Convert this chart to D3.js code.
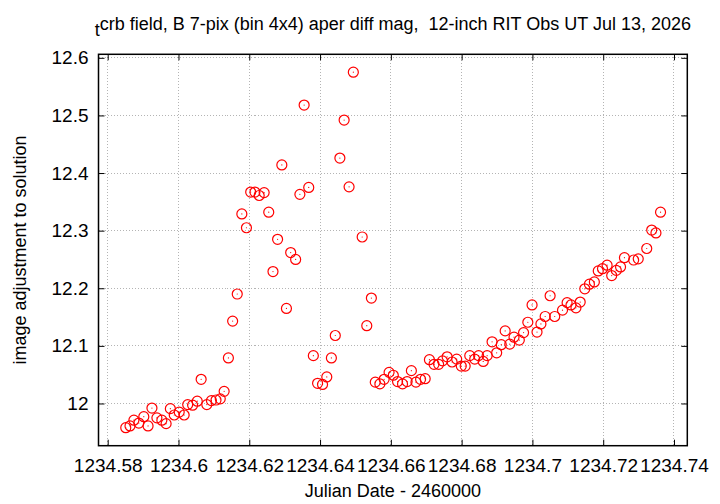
<!DOCTYPE html>
<html><head><meta charset="utf-8">
<script src="https://cdn.jsdelivr.net/npm/d3@7"></script>
<style>body{margin:0;background:#fff}svg{display:block}text{font-family:"Liberation Sans",Arial,sans-serif;white-space:pre}</style>
</head><body><svg id="c" width="720" height="504"></svg>
<script>
const jd = [1234.5851,1234.5863,1234.5874,1234.5888,1234.5902,1234.5914,1234.5925,1234.5939,1234.5953,1234.5965,
1234.5977,1234.5988,1234.6002,1234.6016,1234.6026,1234.6040,1234.6053,1234.6064,1234.6080,1234.6093,
1234.6106,1234.6118,1234.6129,1234.6141,1234.6153,1234.6166,1234.6179,1234.6192,1234.6204,1234.6216,
1234.6228,1234.6242,1234.6255,1234.6267,1234.6280,1234.6292,1234.6305,1234.6317,1234.6331,1234.6343,
1234.6355,1234.6368,1234.6381,1234.6393,1234.6407,1234.6419,1234.6432,1234.6443,1234.6456,1234.6468,
1234.6482,1234.6494,1234.6519,1234.6532,1234.6545,1234.6556,1234.6569,1234.6581,1234.6595,1234.6607,
1234.6619,1234.6633,1234.6646,1234.6658,1234.6671,1234.6684,1234.6697,1234.6709,1234.6722,1234.6735,
1234.6746,1234.6759,1234.6773,1234.6786,1234.6799,1234.6810,1234.6823,1234.6837,1234.6848,1234.6861,
1234.6872,1234.6886,1234.6899,1234.6912,1234.6923,1234.6936,1234.6948,1234.6963,1234.6975,1234.6987,
1234.6999,1234.7013,1234.7024,1234.7036,1234.7050,1234.7063,1234.7085,1234.7098,1234.7109,1234.7123,
1234.7135,1234.7148,1234.7161,1234.7175,1234.7186,1234.7198,1234.7211,1234.7224,1234.7237,1234.7249,
1234.7260,1234.7286,1234.7299,1234.7323,1234.7337,1234.7349,1234.7362];
const mag = [11.958,11.961,11.971,11.966,11.977,11.961,11.992,11.975,11.971,11.965,
11.991,11.980,11.985,11.980,11.998,11.997,12.004,12.042,11.998,12.005,
12.006,12.008,12.021,12.079,12.143,12.190,12.329,12.305,12.367,12.367,
12.361,12.366,12.332,12.229,12.285,12.414,12.165,12.262,12.250,12.363,
12.518,12.375,12.083,12.035,12.033,12.046,12.079,12.118,12.426,12.492,
12.376,12.575,12.289,12.135,12.183,12.037,12.034,12.042,12.054,12.049,
12.038,12.034,12.038,12.057,12.037,12.042,12.043,12.076,12.068,12.068,
12.074,12.081,12.072,12.077,12.065,12.065,12.083,12.077,12.083,12.073,
12.083,12.107,12.088,12.102,12.126,12.103,12.115,12.110,12.123,12.141,
12.171,12.124,12.138,12.151,12.187,12.151,12.162,12.175,12.171,12.166,
12.176,12.199,12.207,12.211,12.230,12.234,12.240,12.222,12.231,12.237,
12.253,12.249,12.251,12.269,12.301,12.296,12.332];
const xTicks = [1234.58,1234.6,1234.62,1234.64,1234.66,1234.68,1234.7,1234.72,1234.74];
const yTicks = [12,12.1,12.2,12.3,12.4,12.5,12.6];
const titleSub = "t";
const titleMain = "crb field, B 7-pix (bin 4x4) aper diff mag,  12-inch RIT Obs UT Jul 13, 2026";
const xLabel = "Julian Date - 2460000";
const yLabel = "image adjustment to solution";

const L=98.5, R=687.3, T=54.3, B=445.7;
const x = d3.scaleLinear().domain([1234.5774,1234.74376]).range([L,R]);
const y = d3.scaleLinear().domain([11.9267,12.6061]).range([B,T]);
const svg = d3.select("#c");
const fmt = d => String(+d.toFixed(2));

// grid
const g = svg.append("g");
g.selectAll(".gx").data(xTicks).join("line").attr("x1",d=>x(d)).attr("x2",d=>x(d)).attr("y1",T).attr("y2",B)
 .attr("stroke","#b4b4b4").attr("stroke-width",1).attr("stroke-dasharray","1,2").attr("shape-rendering","crispEdges");
g.selectAll(".gy").data(yTicks).join("line").attr("y1",d=>y(d)).attr("y2",d=>y(d)).attr("x1",L).attr("x2",R)
 .attr("stroke","#b4b4b4").attr("stroke-width",1).attr("stroke-dasharray","1,2").attr("shape-rendering","crispEdges");

// axes
const tk=6;
const ax = svg.append("g");
ax.append("g").attr("transform",`translate(0,${B})`).call(d3.axisBottom(x).tickValues(xTicks).tickFormat(fmt).tickSizeInner(-tk).tickSizeOuter(0).tickPadding(13));
ax.append("g").attr("transform",`translate(0,${T})`).call(d3.axisTop(x).tickValues(xTicks).tickFormat("").tickSizeInner(-tk).tickSizeOuter(0));
ax.append("g").attr("transform",`translate(${L},0)`).call(d3.axisLeft(y).tickValues(yTicks).tickFormat(fmt).tickSizeInner(-tk).tickSizeOuter(0).tickPadding(10));
ax.append("g").attr("transform",`translate(${R},0)`).call(d3.axisRight(y).tickValues(yTicks).tickFormat("").tickSizeInner(-tk).tickSizeOuter(0));
ax.selectAll(".domain").remove();
ax.selectAll(".tick line").attr("stroke","#000").attr("stroke-width",1);
ax.selectAll(".tick text").attr("font-size",19).attr("fill","#000").attr("font-family","Liberation Sans, Arial, sans-serif");

svg.append("rect").attr("x",L).attr("y",T).attr("width",R-L).attr("height",B-T).attr("fill","none").attr("stroke","#000").attr("stroke-width",1.5);

// points
const data = jd.map((d,i)=>({x:d,y:mag[i]}));
const pts = svg.append("g");
pts.selectAll("circle.o").data(data).join("circle").attr("class","o").attr("cx",d=>x(d.x)).attr("cy",d=>y(d.y)).attr("r",5)
 .attr("fill","none").attr("stroke","#ff0000").attr("stroke-width",1.2);
pts.selectAll("circle.c").data(data).join("circle").attr("class","c").attr("cx",d=>x(d.x)).attr("cy",d=>y(d.y)).attr("r",0.6)
 .attr("fill","#ff0000");

// titles
const tt = svg.append("text").attr("x",(L+R)/2).attr("y",30).attr("text-anchor","middle").attr("font-size",18).attr("fill","#000");
tt.append("tspan").attr("dy",6).text(titleSub);
tt.append("tspan").attr("dy",-6).text(titleMain);
svg.append("text").attr("x",(L+R)/2).attr("y",497).attr("text-anchor","middle").attr("font-size",18).text(xLabel);
svg.append("text").attr("transform",`translate(26,${(T+B)/2}) rotate(-90)`).attr("text-anchor","middle").attr("font-size",18).text(yLabel);
</script></body></html>
